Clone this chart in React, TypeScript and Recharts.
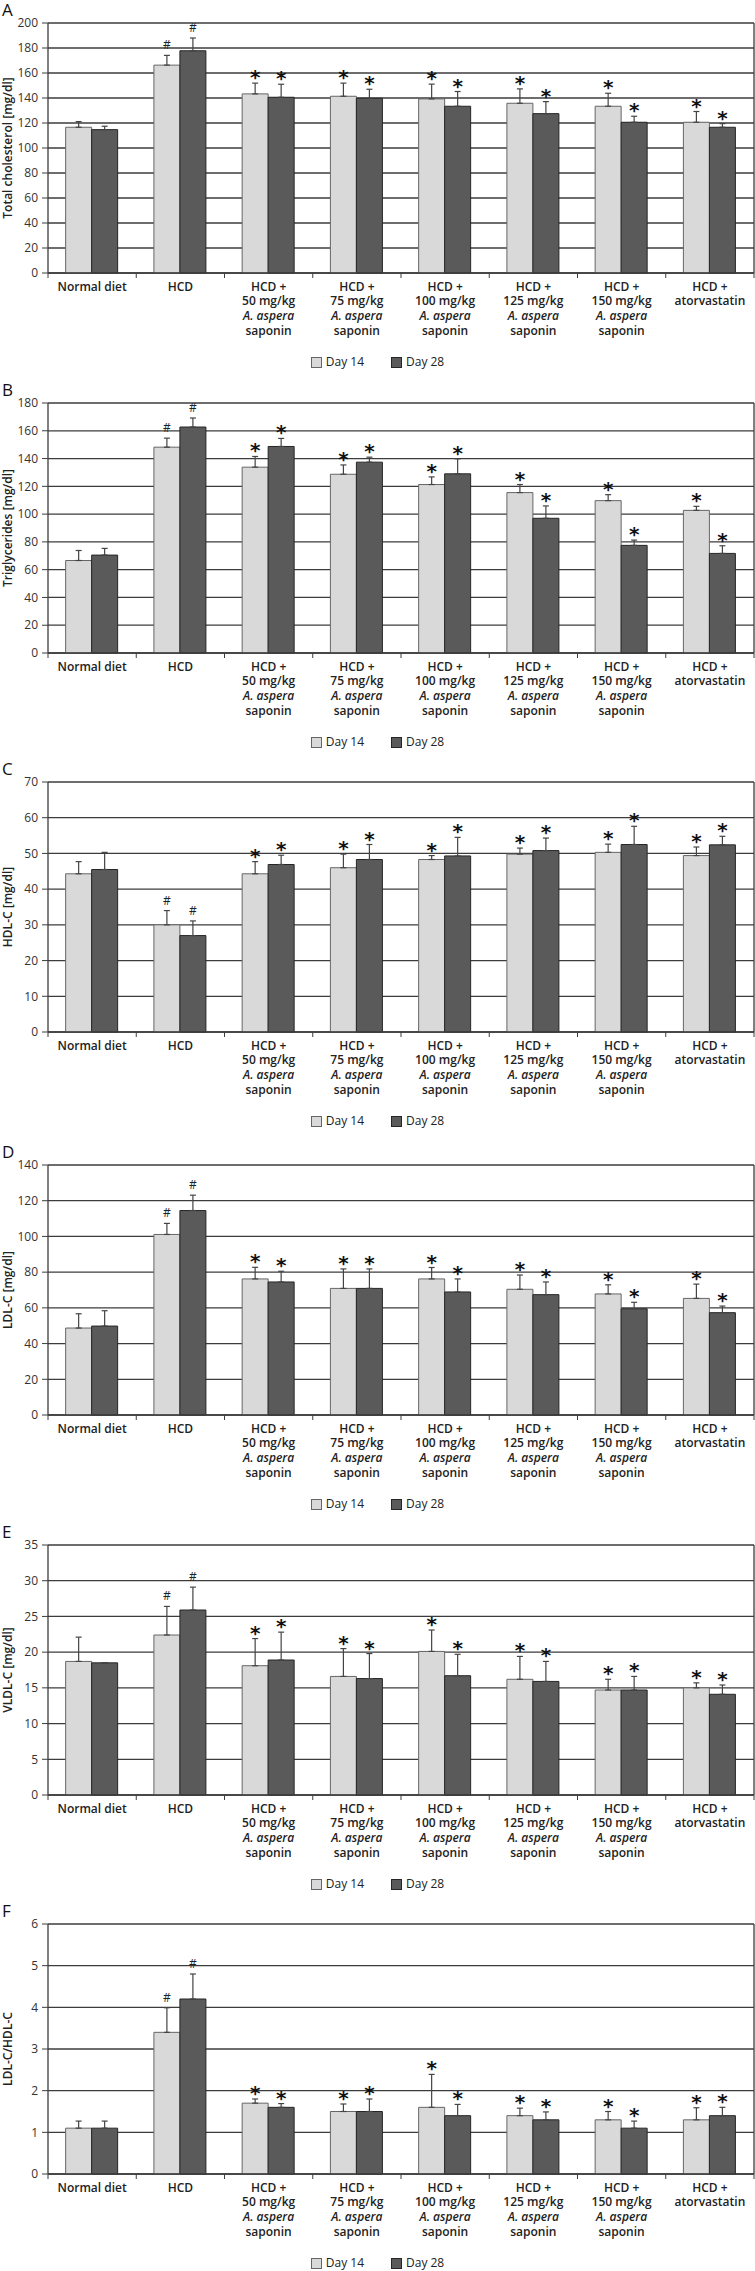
import React from 'react';
import { BarChart, Bar, XAxis, YAxis, CartesianGrid, ErrorBar, LabelList, Legend } from 'recharts';

// ---------- shared data ----------
const categories = [
  'Normal diet',
  'HCD',
  'HCD +\n50 mg/kg\nA. aspera\nsaponin',
  'HCD +\n75 mg/kg\nA. aspera\nsaponin',
  'HCD +\n100 mg/kg\nA. aspera\nsaponin',
  'HCD +\n125 mg/kg\nA. aspera\nsaponin',
  'HCD +\n150 mg/kg\nA. aspera\nsaponin',
  'HCD +\natorvastatin',
];
const seriesNames = ['Day 14', 'Day 28'];
const sigMarks = ['', '#', '*', '*', '*', '*', '*', '*'];

// ---------- A: Total cholesterol ----------
const tcDay14 = [116.6, 166.3, 143.3, 141.4, 139.3, 135.8, 133.4, 120.6];
const tcDay28 = [114.7, 177.8, 140.6, 139.8, 133.4, 127.5, 120.6, 116.6];
const tcErr14 = [4.5, 7.8, 8.6, 10.5, 11.8, 11.5, 10.4, 8.6];
const tcErr28 = [2.7, 10.2, 10.4, 7.2, 11.8, 9.6, 4.8, 2.9];
const tcTicks = [0, 20, 40, 60, 80, 100, 120, 140, 160, 180, 200];

// ---------- B: Triglycerides ----------
const tgDay14 = [66.6, 148.2, 133.8, 128.7, 121.3, 115.5, 109.7, 102.7];
const tgDay28 = [70.5, 162.7, 148.7, 137.4, 129.0, 97.0, 77.5, 71.7];
const tgErr14 = [7.2, 6.5, 7.7, 6.7, 5.5, 5.8, 4.3, 2.9];
const tgErr28 = [4.8, 6.5, 5.8, 3.6, 10.8, 8.9, 3.8, 5.5];
const tgTicks = [0, 20, 40, 60, 80, 100, 120, 140, 160, 180];

// ---------- C: HDL-C ----------
const hdlDay14 = [44.3, 30.0, 44.3, 46.0, 48.3, 49.8, 50.3, 49.4];
const hdlDay28 = [45.5, 27.0, 46.9, 48.3, 49.3, 50.8, 52.5, 52.4];
const hdlErr14 = [3.4, 4.0, 3.4, 3.8, 1.1, 1.7, 2.3, 2.4];
const hdlErr28 = [4.8, 4.1, 2.6, 4.2, 5.2, 3.5, 5.1, 2.4];
const hdlTicks = [0, 10, 20, 30, 40, 50, 60, 70];

// ---------- D: LDL-C ----------
const ldlDay14 = [48.7, 101.1, 76.2, 70.9, 76.2, 70.4, 67.8, 65.3];
const ldlDay28 = [49.8, 114.5, 74.5, 70.9, 68.9, 67.4, 59.5, 57.3];
const ldlErr14 = [8.0, 6.2, 6.5, 10.9, 6.4, 8.0, 5.1, 8.0];
const ldlErr28 = [8.6, 8.6, 6.0, 10.9, 7.3, 7.1, 3.6, 3.7];
const ldlTicks = [0, 20, 40, 60, 80, 100, 120, 140];

// ---------- E: VLDL-C ----------
const vldlDay14 = [18.7, 22.4, 18.1, 16.6, 20.1, 16.2, 14.7, 15.0];
const vldlDay28 = [18.5, 25.9, 18.9, 16.3, 16.7, 15.9, 14.7, 14.1];
const vldlErr14 = [3.4, 4.0, 3.8, 3.9, 3.0, 3.2, 1.5, 0.7];
const vldlErr28 = [0, 3.2, 3.9, 3.5, 3.0, 2.8, 1.9, 1.3];
const vldlTicks = [0, 5, 10, 15, 20, 25, 30, 35];

// ---------- F: LDL-C/HDL-C ----------
const ratioDay14 = [1.1, 3.4, 1.7, 1.5, 1.6, 1.4, 1.3, 1.3];
const ratioDay28 = [1.1, 4.2, 1.6, 1.5, 1.4, 1.3, 1.1, 1.4];
const ratioErr14 = [0.17, 0.59, 0.1, 0.18, 0.79, 0.18, 0.2, 0.29];
const ratioErr28 = [0.17, 0.6, 0.09, 0.3, 0.27, 0.19, 0.17, 0.2];
const ratioTicks = [0, 1, 2, 3, 4, 5, 6];

// ---------- styling ----------
const FONT = '"Open Sans", "Noto Sans", sans-serif';
const W = 755;
const H = 380;
const LEFT = 48;
const PLOT_W = W - LEFT - 1;
const LIGHT = '#d9d9d9';
const LIGHT_STROKE = '#666666';
const DARK = '#5a5a5a';
const DARK_STROKE = '#262626';
const LINE = '#3c3c3c';

const CatTick = (props: any) => {
  const { x, y, payload } = props;
  const idx = payload?.index ?? props.index ?? 0;
  const half = payload?.offset ? payload.offset : PLOT_W / categories.length / 2;
  const lines = String(payload.value).split('\n');
  return (
    <g>
      <line x1={x - half} y1={y} x2={x - half} y2={y + 5} stroke={LINE} strokeWidth={1} />
      {idx === categories.length - 1 && (
        <line x1={x + half} y1={y} x2={x + half} y2={y + 5} stroke={LINE} strokeWidth={1} />
      )}
      <text x={x} y={y + 17.5} textAnchor="middle" fontFamily={FONT} fontSize={12} fontWeight={600} fill="#222">
        {lines.map((l, i) => (
          <tspan key={i} x={x} dy={i === 0 ? 0 : 14.7} fontStyle={l.startsWith('A. aspera') ? 'italic' : 'normal'}>
            {l}
          </tspan>
        ))}
      </text>
    </g>
  );
};

const makeMark = (rows: any[], valKey: string, errKey: string) => (props: any) => {
  const vb = props.viewBox || props;
  const x = props.x ?? vb.x;
  const y = props.y ?? vb.y;
  const width = props.width ?? vb.width;
  const height = Math.abs(props.height ?? vb.height);
  const { index, value } = props;
  if (!value || index == null) return null;
  const row = rows[index];
  const ppu = height / row[valKey];
  const capY = y - row[errKey][1] * ppu;
  const cx = x + width / 2;
  if (value === '#') {
    return (
      <text x={cx} y={capY - 6} textAnchor="middle" fontFamily={FONT} fontSize={12} fill="#222">
        #
      </text>
    );
  }
  return (
    <text x={cx} y={capY + 1} textAnchor="middle" fontFamily='"DejaVu Sans", sans-serif' fontSize={20} fontWeight="bold" fill="#111">
      *
    </text>
  );
};

const LegendContent = (props: any) => {
  const payload = props.payload || [];
  return (
    <div style={{ display: 'flex', justifyContent: 'center', alignItems: 'center', fontFamily: FONT, fontSize: 12, color: '#222', lineHeight: '16px' }}>
      {payload.map((p: any, i: number) => (
        <div key={i} style={{ display: 'flex', alignItems: 'center', marginLeft: i ? 27 : 0 }}>
          <span
            style={{
              display: 'inline-block',
              width: 9,
              height: 9,
              background: i === 0 ? LIGHT : DARK,
              border: `1px solid ${i === 0 ? LIGHT_STROKE : DARK_STROKE}`,
              marginRight: 4,
            }}
          />
          <span>{p.value}</span>
        </div>
      ))}
    </div>
  );
};

type PanelProps = {
  letter: string;
  top: number;
  yLabel: string;
  d14: number[];
  d28: number[];
  e14: number[];
  e28: number[];
  ticks: number[];
};

const Panel = ({ letter, top, yLabel, d14, d28, e14, e28, ticks }: PanelProps) => {
  const rows = categories.map((c, i) => ({
    name: c,
    d14: d14[i],
    d28: d28[i],
    e14: [0, e14[i]],
    e28: [0, e28[i]],
    m14: sigMarks[i],
    m28: sigMarks[i],
  }));
  const maxY = ticks[ticks.length - 1];
  return (
    <div style={{ position: 'absolute', left: 0, top, width: W, height: H }}>
      <div style={{ position: 'absolute', left: 2, top: 1, fontFamily: FONT, fontSize: 17, lineHeight: '17px', color: '#111' }}>
        {letter}
      </div>
      <BarChart
        width={W}
        height={H}
        data={rows}
        margin={{ top: 23, right: 0, bottom: 37, left: 0 }}
        barCategoryGap="20%"
        barGap={0}
      >
        <CartesianGrid vertical={false} stroke={LINE} strokeWidth={1.3} />
        <XAxis
          dataKey="name"
          interval={0}
          height={70}
          tickLine={false}
          tickSize={0}
          tickMargin={0}
          axisLine={{ stroke: LINE, strokeWidth: 1.3 }}
          tick={<CatTick />}
        />
        <YAxis
          width={LEFT}
          domain={[0, maxY]}
          ticks={ticks}
          interval={0}
          tickSize={6}
          tickMargin={4}
          axisLine={{ stroke: LINE, strokeWidth: 1.3 }}
          tickLine={{ stroke: LINE }}
          tick={{ fontFamily: FONT, fontSize: 12, fill: '#333' }}
          label={(lp: any) => {
            const vb = lp.viewBox || {};
            const cy = (vb.y ?? 23) + (vb.height ?? 250) / 2;
            return (
              <text
                x={7}
                y={cy}
                transform={`rotate(-90, 7, ${cy})`}
                textAnchor="middle"
                dominantBaseline="central"
                fontFamily={FONT}
                fontSize={12}
                fontWeight={600}
                fill="#222"
              >
                {yLabel}
              </text>
            );
          }}
        />
        <YAxis
          yAxisId="frame"
          orientation="right"
          width={1}
          domain={[0, 1]}
          tick={false}
          tickLine={false}
          axisLine={{ stroke: LINE, strokeWidth: 1.3 }}
        />
        <Legend
          layout="horizontal"
          verticalAlign="middle"
          align="center"
          wrapperStyle={{ top: 354, left: 0, width: W, height: 16 }}
          content={<LegendContent />}
        />
        <Bar dataKey="d14" name={seriesNames[0]} fill={LIGHT} stroke={LIGHT_STROKE} strokeWidth={1} isAnimationActive={false}>
          <ErrorBar dataKey="e14" width={3} stroke="#444" strokeWidth={1.2} direction="y" />
          <LabelList dataKey="m14" content={makeMark(rows, 'd14', 'e14')} />
        </Bar>
        <Bar dataKey="d28" name={seriesNames[1]} fill={DARK} stroke={DARK_STROKE} strokeWidth={1} isAnimationActive={false}>
          <ErrorBar dataKey="e28" width={3} stroke="#444" strokeWidth={1.2} direction="y" />
          <LabelList dataKey="m28" content={makeMark(rows, 'd28', 'e28')} />
        </Bar>
      </BarChart>
    </div>
  );
}

export default function App() {
  return (
    <div style={{ position: 'absolute', left: 0, top: 0, width: W, height: 2271, background: '#fff', overflow: 'hidden' }}>
      <Panel letter="A" top={0} yLabel="Total cholesterol [mg/dl]" d14={tcDay14} d28={tcDay28} e14={tcErr14} e28={tcErr28} ticks={tcTicks} />
      <Panel letter="B" top={380} yLabel="Triglycerides [mg/dl]" d14={tgDay14} d28={tgDay28} e14={tgErr14} e28={tgErr28} ticks={tgTicks} />
      <Panel letter="C" top={759} yLabel="HDL-C [mg/dl]" d14={hdlDay14} d28={hdlDay28} e14={hdlErr14} e28={hdlErr28} ticks={hdlTicks} />
      <Panel letter="D" top={1142} yLabel="LDL-C [mg/dl]" d14={ldlDay14} d28={ldlDay28} e14={ldlErr14} e28={ldlErr28} ticks={ldlTicks} />
      <Panel letter="E" top={1522} yLabel="VLDL-C [mg/dl]" d14={vldlDay14} d28={vldlDay28} e14={vldlErr14} e28={vldlErr28} ticks={vldlTicks} />
      <Panel letter="F" top={1901} yLabel="LDL-C/HDL-C" d14={ratioDay14} d28={ratioDay28} e14={ratioErr14} e28={ratioErr28} ticks={ratioTicks} />
    </div>
  );
}
